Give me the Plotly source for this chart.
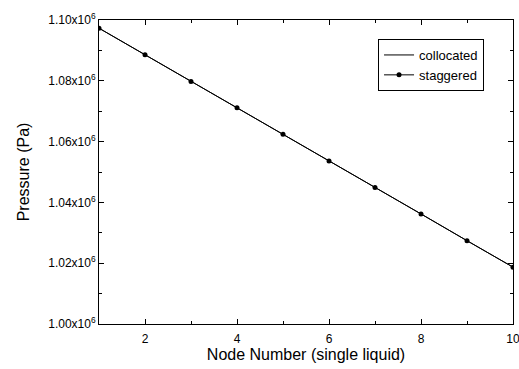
import plotly.graph_objects as go

nodes = [1, 2, 3, 4, 5, 6, 7, 8, 9, 10]
collocated = [1.0973e6, 1.0886e6, 1.0798e6, 1.0711e6, 1.0624e6,
              1.0536e6, 1.0449e6, 1.0362e6, 1.0274e6, 1.0187e6]
staggered = [1.0973e6, 1.0886e6, 1.0798e6, 1.0711e6, 1.0624e6,
             1.0536e6, 1.0449e6, 1.0362e6, 1.0274e6, 1.0187e6]

y_tickvals = [1.00e6, 1.02e6, 1.04e6, 1.06e6, 1.08e6, 1.10e6]
y_ticktext = ["1.00x10<sup>6</sup>", "1.02x10<sup>6</sup>", "1.04x10<sup>6</sup>",
              "1.06x10<sup>6</sup>", "1.08x10<sup>6</sup>", "1.10x10<sup>6</sup>"]
x_tickvals = [2, 4, 6, 8, 10]

font = "Liberation Sans, Arial, sans-serif"

fig = go.Figure()
fig.add_trace(go.Scatter(x=nodes, y=collocated, mode="lines", name="collocated",
                         line=dict(color="black", width=1)))
fig.add_trace(go.Scatter(x=nodes, y=staggered, mode="lines+markers", name="staggered",
                         line=dict(color="black", width=1),
                         marker=dict(color="black", size=5, symbol="circle"),
                         cliponaxis=True))

fig.update_layout(
    width=519, height=369,
    margin=dict(l=99, r=6, t=20, b=45, autoexpand=False),
    paper_bgcolor="white", plot_bgcolor="white",
    font=dict(family=font, color="black", size=12),
    showlegend=True,
    legend=dict(x=0.674, y=0.9375, xanchor="left", yanchor="top",
                bordercolor="black", borderwidth=1, bgcolor="white",
                font=dict(size=13, family=font), tracegroupgap=0,
                itemwidth=30),
)

fig.update_xaxes(
    range=[1, 10], tickmode="array", tickvals=x_tickvals,
    ticks="inside", ticklen=5, tickwidth=1, tickcolor="black",
    showline=True, linecolor="black", linewidth=1, mirror="ticks",
    showgrid=False, zeroline=False, automargin=False,
    ticklabeloverflow="allow", ticklabelstandoff=4,
    tickfont=dict(size=12, family=font),
    minor=dict(tickmode="array", tickvals=[1, 3, 5, 7, 9], ticks="inside", ticklen=3,
               tickcolor="black", tickwidth=1, showgrid=False),
    title=dict(text="Node Number (single liquid)", font=dict(size=16, family=font), standoff=0),
)
fig.update_yaxes(
    range=[1.00e6, 1.10e6], tickmode="array", tickvals=y_tickvals, ticktext=y_ticktext,
    ticks="inside", ticklen=5, tickwidth=1, tickcolor="black",
    showline=True, linecolor="black", linewidth=1, mirror="ticks",
    showgrid=False, zeroline=False, automargin=False,
    tickfont=dict(size=12, family=font),
    minor=dict(tickmode="array", tickvals=[1.01e6, 1.03e6, 1.05e6, 1.07e6, 1.09e6],
               ticks="inside", ticklen=3, tickcolor="black", tickwidth=1, showgrid=False),
    title=dict(text="Pressure (Pa)", font=dict(size=16, family=font), standoff=14),
)

fig.write_html("out.html", config={"displayModeBar": False},
               post_script="document.body.style.margin='0';document.body.style.overflow='hidden';")
